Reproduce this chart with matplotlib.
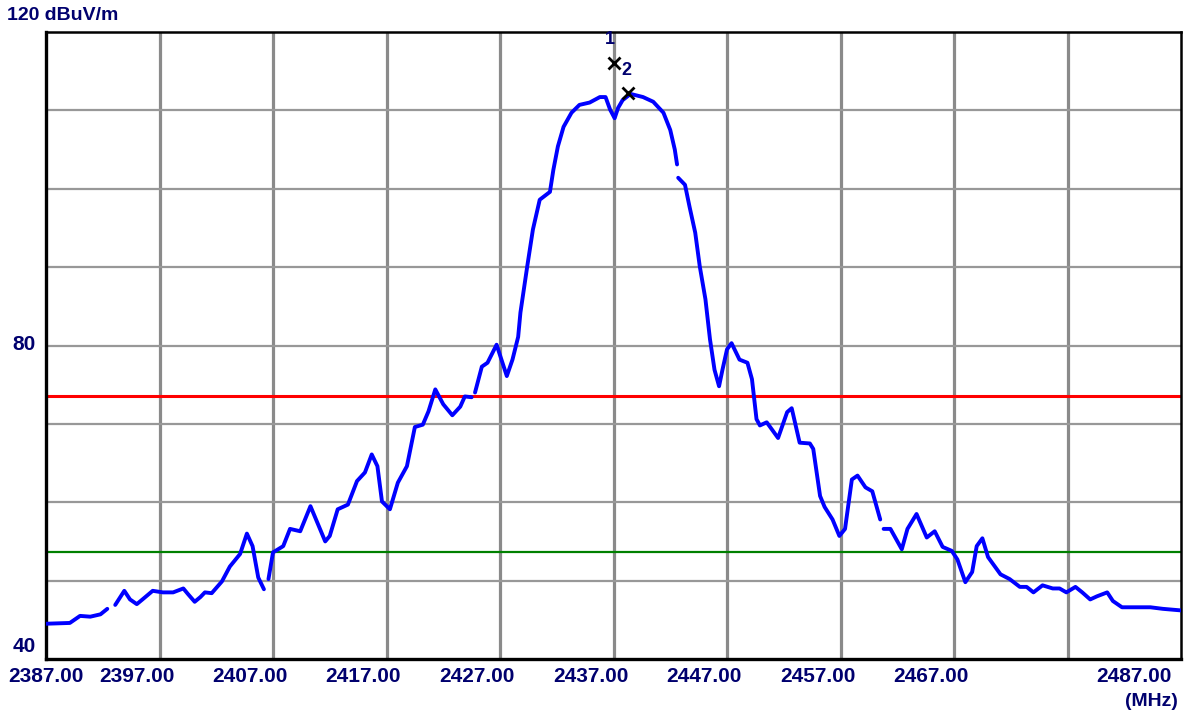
import numpy as np
import matplotlib
matplotlib.use('Agg')
import matplotlib.pyplot as plt
from matplotlib.transforms import offset_copy

# Spectrum trace (MHz, dBuV/m); nan = small gaps in the trace
freq = [2387.0, 2389.1, 2390.0, 2390.9, 2391.8, 2392.4, 2392.7, 2393.1, 2393.9, 2394.4,
        2395.0, 2395.5, 2396.4, 2397.3, 2398.2, 2399.1, 2399.5, 2400.1, 2400.6, 2401.0,
        2401.6, 2402.5, 2403.2, 2404.1, 2404.7, 2405.2, 2405.7, 2406.2, 2406.4, 2406.6,
        2407.0, 2407.9, 2408.5, 2409.4, 2410.3, 2411.6, 2412.0, 2412.7, 2413.6, 2414.4,
        2415.1, 2415.7, 2416.2, 2416.6, 2417.3, 2418.0, 2418.8, 2419.5, 2420.2, 2420.7,
        2421.3, 2422.0, 2422.8, 2423.5, 2423.9, 2424.5, 2424.65, 2424.8, 2425.4, 2425.9,
        2426.7, 2427.6, 2428.1, 2428.6, 2428.8, 2429.4, 2429.9, 2430.5, 2431.4, 2431.7,
        2432.1, 2432.6, 2433.3, 2434.0, 2434.9, 2435.8, 2436.3, 2436.7, 2437.1, 2437.4,
        2437.8, 2438.5, 2439.6, 2440.5, 2441.4, 2442.0, 2442.4, 2442.6, 2442.65, 2442.7,
        2443.3, 2443.7, 2444.2, 2444.6, 2445.1, 2445.5, 2445.9, 2446.3, 2446.6, 2447.0,
        2447.4, 2448.1, 2448.8, 2449.2, 2449.6, 2449.9, 2450.5, 2451.5, 2452.3, 2452.7,
        2453.4, 2454.3, 2454.6, 2455.2, 2455.6, 2456.3, 2456.9, 2457.4, 2458.0, 2458.5,
        2459.2, 2459.8, 2460.5, 2460.65, 2460.8, 2461.4, 2462.4, 2462.9, 2463.7, 2464.6,
        2465.3, 2466.0, 2466.8, 2467.3, 2468.0, 2468.6, 2469.0, 2469.5, 2470.0, 2471.1,
        2471.9, 2472.8, 2473.4, 2474.0, 2474.8, 2475.7, 2476.3, 2476.9, 2477.7, 2478.3,
        2479.0, 2479.6, 2480.5, 2481.0, 2481.8, 2482.8, 2484.3, 2485.4, 2487.0]
level = [44.5, 44.6, 45.5, 45.4, 45.7, 46.4, np.nan, 46.9, 48.7, 47.6,
         47.0, 47.6, 48.7, 48.5, 48.5, 49.0, 48.3, 47.3, 47.9, 48.5,
         48.4, 49.9, 51.8, 53.4, 56.0, 54.4, 50.4, 48.9, np.nan, 50.2,
         53.6, 54.4, 56.6, 56.3, 59.5, 55.0, 55.7, 59.1, 59.7, 62.7,
         63.8, 66.1, 64.6, 60.1, 59.1, 62.5, 64.6, 69.6, 69.9, 71.6,
         74.4, 72.5, 71.1, 72.2, 73.5, 73.4, np.nan, 74.0, 77.3, 77.8,
         80.1, 76.1, 78.2, 81.1, 84.2, 90.1, 94.8, 98.6, 99.6, 102.4,
         105.4, 107.9, 109.7, 110.7, 111.0, 111.7, 111.7, 110.1, 109.0, 110.3,
         111.3, 112.1, 111.7, 111.1, 109.7, 107.5, 105.0, 103.1, np.nan, 101.4,
         100.5, 97.7, 94.4, 90.1, 85.9, 80.8, 76.9, 74.8, 76.9, 79.5,
         80.3, 78.2, 77.8, 75.7, 70.6, 69.8, 70.2, 68.2, 71.5, 72.0,
         67.6, 67.5, 66.8, 60.8, 59.4, 57.8, 55.7, 56.6, 62.9, 63.4,
         61.9, 61.4, 57.8, np.nan, 56.6, 56.6, 54.0, 56.6, 58.5, 55.5,
         56.3, 54.3, 53.8, 52.7, 49.8, 51.1, 54.4, 55.4, 53.0, 50.8,
         50.2, 49.2, 49.2, 48.5, 49.4, 49.0, 49.0, 48.5, 49.2, 48.5,
         47.6, 48.0, 48.5, 47.4, 46.6, 46.6, 46.6, 46.4, 46.2]

# Limit lines (as drawn on the printout)
peak_limit = 73.6
avg_limit = 53.6

# Markers
marker_freq = [2437.0, 2438.3]
marker_level = [116.0, 112.2]
marker_names = ['1', '2']

xticks = [2387, 2397, 2407, 2417, 2427, 2437, 2447, 2457, 2467, 2477, 2487]
xlabels = ['2387.00', '2397.00', '2407.00', '2417.00', '2427.00', '2437.00',
           '2447.00', '2457.00', '2467.00', '', '2487.00']
xlabel_shift = [0, -23, -23, -23, -23, -23, -23, -23, -23, 0, -47]
yticks = [40, 50, 60, 70, 80, 90, 100, 110, 120]

navy = '#00006e'
fnt = dict(family=['Liberation Sans Narrow', 'Liberation Sans', 'DejaVu Sans'],
           weight='bold', color=navy)

fig = plt.figure(figsize=(11.84, 7.13), dpi=100)
ax = fig.add_axes([46 / 1184, (713 - 659) / 713, (1181 - 46) / 1184, (659 - 32) / 713])
ax.set_xlim(2387, 2487)
ax.set_ylim(40, 120)

for x in xticks[1:-1]:
    ax.axvline(x, color='#8a8a8a', lw=2.3, zorder=1)
for y in yticks[1:-1]:
    ax.axhline(y, color='#989898', lw=1.6, zorder=1)

ax.axhline(peak_limit, color='#ff0000', lw=2.2, zorder=2)
ax.axhline(avg_limit, color='#008000', lw=1.6, zorder=2)

ax.plot(freq, level, color='#0000ff', lw=2.8, zorder=3,
        solid_joinstyle='round', solid_capstyle='round')

ax.plot(marker_freq, marker_level, 'x', color='black', ms=9, mew=2, zorder=4)
ax.text(marker_freq[0] - 0.35, marker_level[0] + 1.9, marker_names[0], fontsize=13,
        ha='center', va='bottom', zorder=5, **fnt)
ax.text(marker_freq[1] - 0.2, marker_level[1] + 1.8, marker_names[1], fontsize=13,
        ha='center', va='bottom', zorder=5, **fnt)

ax.set_xticks([])
ax.set_yticks([])
for side in ['left', 'bottom']:
    ax.spines[side].set_linewidth(2.4)
for side in ['top', 'right']:
    ax.spines[side].set_linewidth(1.8)

# x labels, shifted like the analyzer printout
for x, lab, dx in zip(xticks, xlabels, xlabel_shift):
    tr = offset_copy(ax.get_xaxis_transform(), fig=fig, x=dx, y=-17, units='dots')
    ax.text(x, 0, lab, transform=tr, ha='center', va='center', fontsize=15, **fnt)
fig.text(1178 / 1184, 1 - 702 / 713, '(MHz)', ha='right', va='center', fontsize=14, **fnt)

# y labels
fig.text(36 / 1184, 1 - 344 / 713, '80', ha='right', va='center', fontsize=15, **fnt)
fig.text(36 / 1184, 1 - 647 / 713, '40', ha='right', va='center', fontsize=15, **fnt)
fig.text(7 / 1184, 1 - 16 / 713, '120 dBuV/m', ha='left', va='center', fontsize=14, **fnt)

fig.savefig('out.png', dpi=100)
